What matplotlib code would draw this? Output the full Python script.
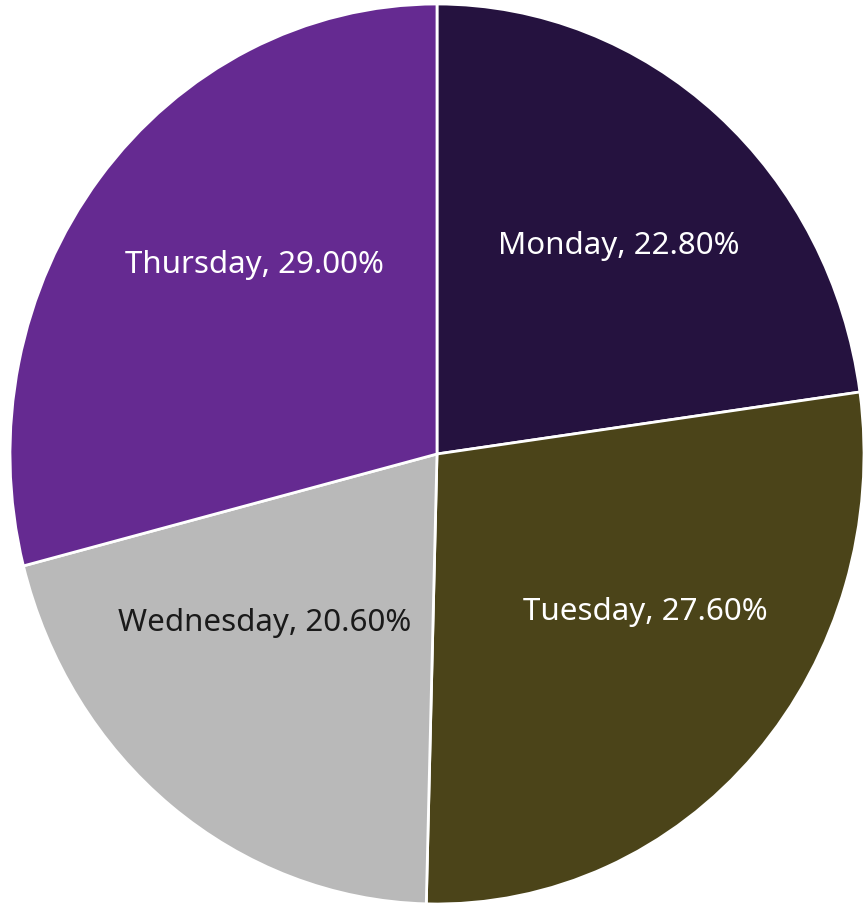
import matplotlib
matplotlib.use("Agg")
import matplotlib.pyplot as plt
import numpy as np

days = ["Monday", "Tuesday", "Wednesday", "Thursday"]
shares = [22.80, 27.60, 20.60, 29.00]
colors = ["#25123f", "#4b4419", "#b9b9b9", "#652a91"]
text_colors = ["white", "white", "#1a1a1a", "white"]
# label placement: (radius, angle nudge in degrees) relative to wedge middle
label_pos = [(0.63, -1.6), (0.60, 6.2), (0.55, -8.7), (0.60, -6.9)]

plt.rcParams['font.family'] = ['Noto Sans', 'DejaVu Sans']

fig = plt.figure(figsize=(8.63, 9.04), dpi=100)
ax = fig.add_axes([0, 0, 1, 1])

labels = [f"{d}, {v:.2f}%" for d, v in zip(days, shares)]
wedges, texts = ax.pie(shares, labels=labels, colors=colors, startangle=90,
                       counterclock=False, labeldistance=0.62,
                       wedgeprops=dict(edgecolor="white", linewidth=2),
                       textprops=dict(fontsize=22.5, ha="center", va="center"))
for w, t, c, (r, da) in zip(wedges, texts, text_colors, label_pos):
    mid = np.deg2rad((w.theta1 + w.theta2) / 2 + da)
    t.set_position((r * np.cos(mid), r * np.sin(mid)))
    t.set_color(c)
    t.set_horizontalalignment("center")

ax.set_aspect("auto")
ax.set_xlim(-437 / 427, (863 - 437) / 427)
ax.set_ylim(-449 / 450, 455 / 450)
ax.axis("off")

fig.savefig("out.png", dpi=100)
